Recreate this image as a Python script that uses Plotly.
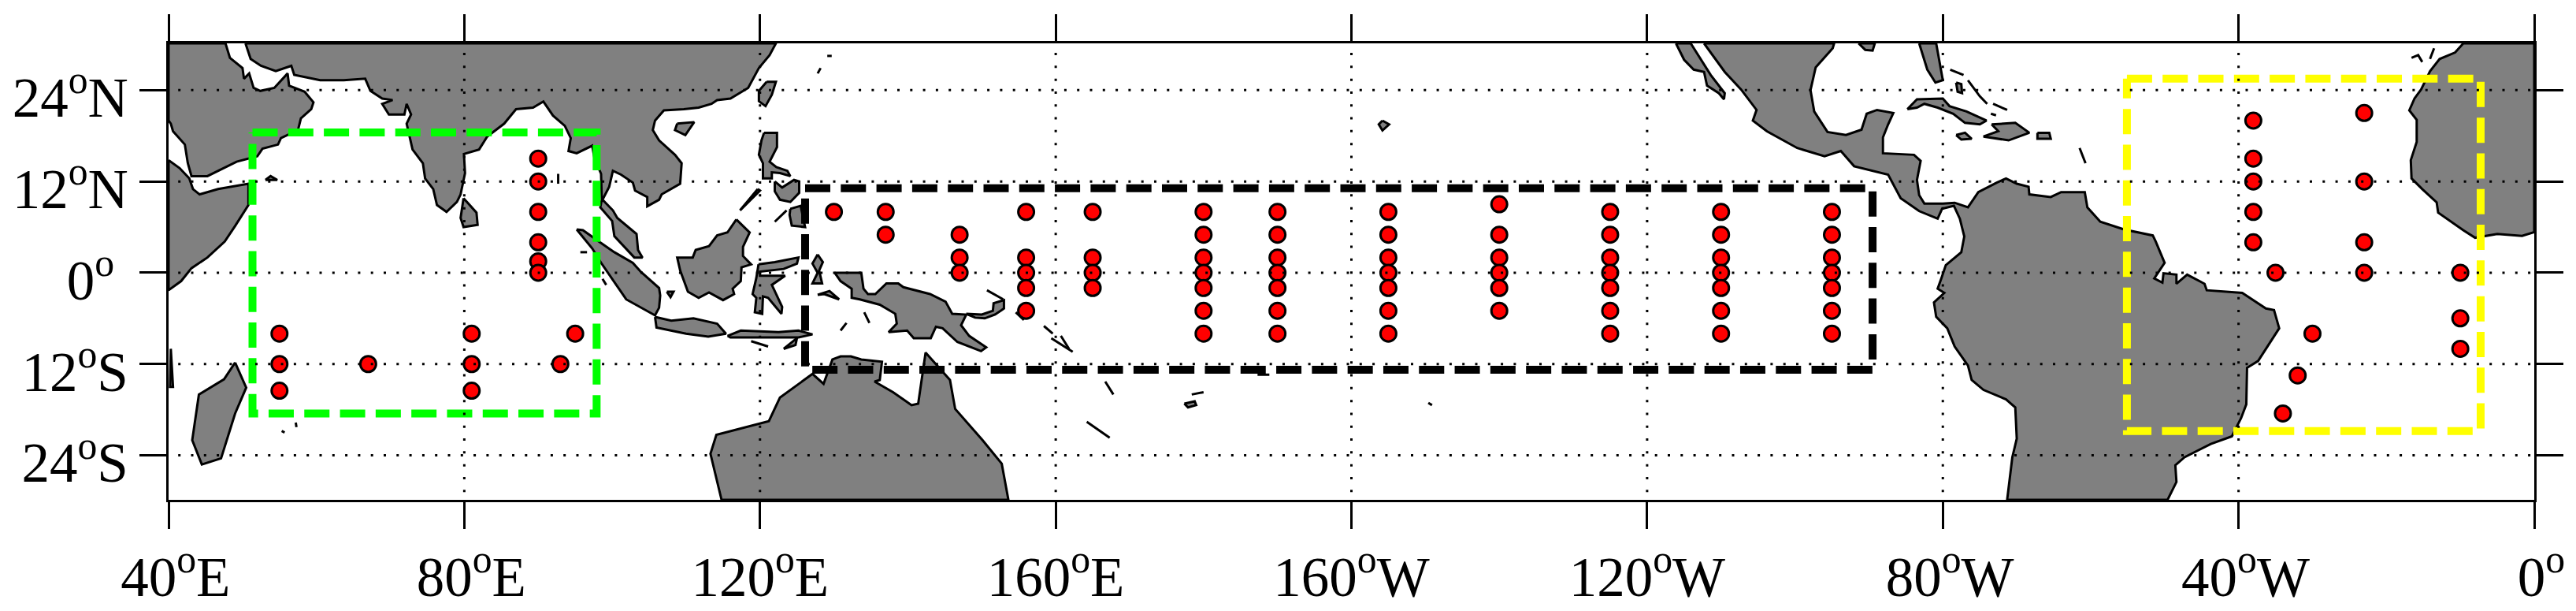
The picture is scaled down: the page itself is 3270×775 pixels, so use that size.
import plotly.graph_objects as go

# map frame
lon_range = [40, 360]
lat_range = [-29.85, 30.15]

# axis ticks, the leading blank nudges the two digit labels to the right as in the original
lon_ticks = [40, 80, 120, 160, 200, 240, 280, 320, 360]
lon_labels = ["\u00a040<sup>o</sup>E", "\u00a080<sup>o</sup>E", "120<sup>o</sup>E", "160<sup>o</sup>E", "160<sup>o</sup>W",
              "120<sup>o</sup>W", "\u00a080<sup>o</sup>W", "\u00a040<sup>o</sup>W", "\u00a00<sup>o</sup>"]
lat_ticks = [-24, -12, 0, 12, 24]
lat_labels = ["24<sup>o</sup>S", "12<sup>o</sup>S", "0<sup>o</sup>\u00a0", "12<sup>o</sup>N", "24<sup>o</sup>N"]

# where the dotted graticule starts and stops
grid_lon_span = [41.3, 360]
grid_lat_span = [28.9, -29.85]

# moorings
indian_lon = [55, 55, 55, 67, 81, 81, 81, 90, 90, 90, 90, 90, 90, 93, 95]
indian_lat = [-8, -12, -15.5, -12, -8, -12, -15.5, 15, 12, 8, 4, 1.5, 0, -12, -8]

pacific_lon = [130, 137, 137, 147, 147, 147, 156, 156, 156, 156, 156, 165, 165, 165, 165,
               180, 180, 180, 180, 180, 180, 180, 190, 190, 190, 190, 190, 190, 190,
               205, 205, 205, 205, 205, 205, 205, 220, 220, 220, 220, 220, 220,
               235, 235, 235, 235, 235, 235, 235, 250, 250, 250, 250, 250, 250, 250,
               265, 265, 265, 265, 265, 265, 265]
pacific_lat = [8, 8, 5, 5, 2, 0, 8, 2, 0, -2, -5, 8, 2, 0, -2,
               8, 5, 2, 0, -2, -5, -8, 8, 5, 2, 0, -2, -5, -8,
               8, 5, 2, 0, -2, -5, -8, 9, 5, 2, 0, -2, -5,
               8, 5, 2, 0, -2, -5, -8, 8, 5, 2, 0, -2, -5, -8,
               8, 5, 2, 0, -2, -5, -8]

atlantic_lon = [322, 322, 322, 322, 322, 337, 337, 337, 337, 325, 350, 350, 350, 330, 328, 326]
atlantic_lat = [20, 15, 12, 8, 4, 21, 12, 4, 0, 0, 0, -6, -10, -8, -13.5, -18.5]

# dashed regions: west, east, south, north
green_box = [51.35, 97.9, -18.5, 18.45]
black_box = [126.1, 270.5, -12.75, 11.1]
yellow_box = [304.9, 352.75, -20.8, 25.5]

# coastlines, (lon, lat)
asia = [(50.4, 30.15), (51.1, 28.1), (52.5, 27.2), (54.5, 26.5), (56.6, 27.2), (57, 26), (60.5, 25.3), (63.7, 25.3), (66.6, 25.5),
        (67.3, 23.9), (68.9, 22.9), (70.3, 22.7), (68.9, 22.2), (69.8, 20.8), (71.9, 20.8), (72.2, 22.2), (72.8, 20.8),
        (72.2, 19.6), (73, 16.2), (74.4, 14.4), (74.7, 12.4), (75.8, 11), (76.3, 8.9), (77.6, 8), (79, 9.3), (79.5, 10.3),
        (80.1, 13.1), (79.95, 15.6), (82, 16.2), (83.1, 17.9), (85.4, 19.6), (87, 21.5), (89.3, 21.7), (90.7, 22.5),
        (92, 20.65), (93.6, 19.3), (94.4, 17.7), (94.1, 16), (95.2, 15.7), (97.3, 16.7), (97.6, 15.1), (98.5, 13), (98.6, 9.6),
        (98.4, 8.6), (100, 6.8), (100.3, 4.8), (103, 2), (104.1, 2), (103.5, 3), (103.3, 5.1), (100.7, 7.2), (100.1, 8.2),
        (98.7, 9.6), (99.6, 11.3), (100.1, 13.4), (101.2, 12.9), (102.8, 11.85), (103.1, 10.8), (104.75, 9.95), (104.75, 8.74),
        (106.35, 9.6), (106.7, 10.3), (109.2, 11.7), (109.4, 14.4), (108.5, 15.5), (106.35, 17.4), (105.5, 18.75), (105.8, 20),
        (107, 21.35), (109.7, 21.5), (111.7, 21.7), (113.45, 22.2), (114.2, 22.7), (116, 22.9), (118.4, 24.3), (119.1, 25.5),
        (119.85, 26.9), (121.3, 28.6), (122.15, 30.15)]
arabia = [(40, 30.15), (47.7, 30.15), (48.3, 28.25), (50, 26.9), (50.2, 25.5), (50.9, 26.2), (51.5, 24.3), (52.4, 23.9), (54.3, 24.3),
          (56.1, 26.2), (56.3, 24.6), (58.4, 23.8), (59.6, 22.4), (59.3, 21.5), (57.9, 20.3), (57.5, 18.75), (55.2, 17.7),
          (54.8, 16.85), (52.7, 16.3), (52, 15.3), (49.2, 14.6), (47.2, 13.6), (45.25, 12.7), (43.1, 12.7), (42.6, 14.4),
          (42.2, 16.85), (40.6, 18.6), (40.3, 19.6), (40, 20)]
east_africa = [(40, 14.8), (41.5, 13.75), (42.8, 12.4), (43.3, 11), (44.2, 10.3), (46.7, 11), (50.8, 11.7), (50.8, 8.9), (49, 6.15),
               (47.6, 4.1), (45.25, 2), (43.1, 0.6), (41.7, -1.1), (40, -2.3)]
mozambique = [(40.3, -10), (40.6, -15), (40.2, -15)]
west_africa = [(350.4, 30.15), (349.3, 28.95), (347.2, 28.1), (345.9, 26.5), (344.7, 24.1), (343.8, 22.9), (343.1, 21.35),
               (344.1, 20.1), (344.1, 17.2), (343.3, 14.8), (343.4, 12.4), (344.85, 11), (346.8, 9.25), (347, 7.9), (350.4, 5.6),
               (352, 4.6), (355, 5.1), (358.35, 4.85), (360, 5.35), (360, 30.15)]
madagascar = [(49, -11.8), (50.5, -15.1), (49, -18.5), (47.1, -24.4), (44.5, -25.2), (43.2, -22), (44.1, -16), (47.5, -14)]
sri_lanka = [(79.9, 9.8), (81.65, 7.9), (81.8, 6.3), (79.9, 6), (79.5, 7.2)]
socotra = [(53.1, 12.2), (53.8, 12.7), (54.7, 12.2)]
sumatra = [(95.2, 5.7), (96.05, 5.6), (98.5, 3.9), (100.3, 2.7), (102.8, 1.3), (103.9, 0.1), (106.35, -2), (106.5, -3), (106.35, -4.6),
           (105.8, -5.6), (101.9, -3.5), (100.7, -1.8), (98.5, 1.3), (97.3, 3.2)]
belitung = [(107.4, -2.5), (108.3, -2.5), (107.9, -3.2)]
java = [(105.8, -5.8), (108, -6.3), (111, -6), (114.2, -6.7), (115.4, -8), (113, -8.4), (110, -8), (106, -7.2)]
sunda = [(115.6, -8.3), (117.4, -7.6), (122.5, -7.8), (125.2, -7.6), (127.1, -8.1), (125.2, -8.5), (120.2, -8.5), (116, -8.5)]
timor = [(123.2, -10), (125, -8.6), (124.8, -9.5)]
borneo = [(116.8, 7), (118.6, 5.3), (117.7, 3.4), (117.7, 2.2), (118.8, 1.1), (117.5, 0.7), (117.4, -1.1), (116.3, -2.1),
          (116.5, -2.8), (115, -3.6), (113.1, -2.6), (111.7, -3.3), (110.25, -2.5), (109.2, 0.3), (108.8, 2), (110.9, 2), (111.3, 3),
          (113.1, 3.5), (114.2, 4.9), (115.6, 5.3)]
sulawesi = [(119.8, 1.1), (122, 1.4), (125.2, 2), (125, 1.2), (123.2, 0.5), (120, 0.15), (120, -0.4), (123.4, -0.4),
            (121.6, -1.6), (123, -4.5), (122.9, -5.4), (121.1, -3.3), (120.4, -3.1), (120.3, -5.4), (119.3, -5.2),
            (119.5, -3.3), (119, -2.8), (119.5, -0.7)]
luzon = [(120.55, 18.4), (122.3, 18.4), (122.3, 16.5), (121.3, 14.6), (122.2, 13.9), (123.7, 13.4), (124.1, 12.7), (122.7, 13.1),
         (121.6, 13.2), (121.6, 12.4), (120.4, 12.4), (120.4, 14.4), (119.85, 15.5), (120.2, 17.4)]
palawan = [(119.7, 11), (120, 10.8), (117.3, 8.2)]
visayas = [(122, 12), (123, 11.2), (124.6, 12.2), (125.3, 12), (125.3, 10.5), (124.1, 9.3), (122.7, 9.6), (122, 10.7)]
mindanao = [(124.1, 8.4), (125.5, 8.8), (125.9, 6.9), (126.1, 6), (124.3, 6.2), (124, 7.6)]
halmahera = [(127.8, 2.4), (128.5, 1.4), (128, 0.3), (128.4, -1.4), (127.1, -1.4), (127.8, 0), (127.1, 1.2)]
seram = [(127.8, -2.9), (129.4, -2.4), (130.7, -3.5), (128.7, -2.8)]
new_guinea = [(130.1, 0), (133.7, 0), (134, -2.1), (134.6, -2.8), (135.6, -2.8), (137.1, -1.4), (138.7, -1.4), (139.4, -1.9),
              (143, -2.8), (145.1, -3.8), (146, -5.4), (147.9, -5.5), (147.2, -6.9), (148.3, -8.3), (150.6, -9.8),
              (149.9, -10.3), (146.7, -9.1), (144.7, -7.3), (143.8, -7.1), (143.1, -8.6), (140.8, -8.6), (139.9, -7.6),
              (137.4, -7.8), (138.5, -6.7), (138.3, -5.4), (136.2, -4.2), (133.5, -3.5), (132.4, -3.3), (132.4, -2.1),
              (130.9, -1.1)]
new_britain = [(147.9, -5.4), (150, -5.5), (151.5, -5), (151.6, -4), (153, -3.6), (153, -4.7), (151.8, -5.5), (150.4, -6),
               (149.1, -5.9)]
australia = [(114.8, -29.85), (113.3, -23.8), (114.1, -21.3), (121.2, -19.5), (122.7, -16.4), (127.1, -13.3), (128.6, -14.6),
             (129.8, -11.4), (130.9, -11), (132.3, -11), (133.7, -11.4), (136.5, -11.7), (136.2, -14.1), (135.5, -14.3),
             (138, -15.7), (140.5, -17.4), (141.4, -17.2), (142.4, -10.5), (145.7, -14.1), (146.4, -17.9), (150.1, -22),
             (152.7, -25.1), (153.6, -29.85)]
hainan = [(108.8, 19.6), (111.1, 19.8), (109.9, 18.1), (108.5, 18.75)]
taiwan = [(120.9, 25.1), (122.15, 25.1), (121.6, 23.4), (120.75, 21.9), (119.85, 22.55), (119.85, 23.9)]
hawaii = [(204.2, 20), (205.1, 19.5), (204.2, 18.7), (203.7, 19.5)]
baja = [(243.9, 30.15), (245.9, 30.15), (248.6, 26), (250.5, 23.6), (250.4, 22.8), (249.7, 23.6), (248.1, 24.6), (247.7, 26.4),
        (246.3, 26.7), (245, 28)]
americas = [(247.7, 30.15), (250.5, 26.4), (252.7, 24.1), (254.8, 21.4), (254.3, 20), (256.2, 18.6), (260.3, 16.4), (264, 15.3),
            (266.2, 16), (268, 14), (272.6, 12.9), (274.3, 9.8), (276.8, 8.1), (279.3, 7.1), (279.9, 8.4), (281.5, 8.8),
            (282.3, 7.1), (282.9, 4.77), (282.5, 2.7), (280.4, 1), (279.85, -0.6), (279.3, -2.1), (280.2, -2.65), (278.8, -3.9),
            (279.1, -5.8), (280.6, -7.3), (281.6, -9.7), (283.4, -12.2), (283.9, -14.1), (285.5, -15.4), (288.55, -16.65),
            (289.8, -17.7), (290, -21.8), (289.4, -24.25), (288.7, -29.85), (310.4, -29.85), (311.6, -27.5), (311.45, -25.3),
            (312.7, -24.25), (316.25, -22.5), (319.1, -21.5), (320.35, -19.1), (321.05, -17.3), (321.15, -12.5), (322.65, -11.6),
            (325.5, -7.3), (324.8, -4.9), (323.7, -4.7), (320.5, -2.65), (315.7, -2.3), (315.4, -1.45), (313.05, -0.25),
            (311.6, -1.45), (311.6, -0.25), (309.85, -0.07), (309.7, -1.3), (308.6, -0.75), (310, 1.3), (308.8, 4.1), (308.4, 4.9),
            (304.5, 5.7), (301.3, 6.7), (299.55, 8.6), (299.2, 10.6), (296, 10.6), (294.6, 9.95), (291.7, 10.3), (291.6, 11.3),
            (290, 11.7), (288.55, 12.4), (287.3, 11.85), (284.8, 10.6), (283.4, 8.6), (281.6, 9.2), (280, 9.1), (277.5, 9.1),
            (276.8, 10.2), (276.5, 12.2), (277, 14.7), (276.1, 15.5), (271.9, 15.7), (271.9, 17.8), (272.6, 19.5), (273.3, 21),
            (271.1, 21.4), (269.7, 20.9), (269, 18.8), (266.9, 18.1), (264.4, 18.5), (262.6, 21.2), (262.1, 24), (262.8, 27),
            (265.1, 29.5), (265.3, 30.15)]
florida = [(276.8, 30.15), (279.1, 30.15), (280, 25.3), (279, 25), (277.9, 26.7)]
louisiana = [(268.6, 30.15), (270.8, 30.15), (270.5, 29.2), (269.5, 29.3)]
cuba = [(275.2, 21.5), (276.5, 22.8), (280, 22.9), (280.9, 21.9), (283.2, 21.2), (285.9, 20), (285, 19.5), (283, 19.7),
        (281.4, 20.9), (279.3, 21.7), (277.5, 22.2), (276.5, 21.7)]
hispaniola = [(286.6, 19.5), (289.8, 19.7), (291.7, 18.4), (288.9, 17.4), (285.5, 17.9), (287.5, 18.6)]
jamaica = [(281.8, 18.1), (283, 18.4), (283.9, 17.6), (282.5, 17.5)]
puerto_rico = [(292.8, 18.4), (294.4, 18.4), (294.6, 17.6), (292.8, 17.6)]
andros = [(281.8, 25), (282.5, 24.8), (282.6, 23.6), (282, 23.8)]
fiji = [(177.4, -17.2), (178.8, -16.9), (179, -17.4), (177.9, -17.7)]
landmasses = [asia, arabia, east_africa, mozambique, west_africa, madagascar, sri_lanka, socotra, sumatra, belitung, java, sunda,
              timor, borneo, sulawesi, luzon, palawan, visayas, mindanao, halmahera, seram, new_guinea, new_britain, australia,
              hainan, taiwan, hawaii, baja, americas, florida, louisiana, cuba, hispaniola, jamaica, puerto_rico, andros, fiji]

# thin islands and island chains, drawn as just a coast line
zamboanga = [(122, 6.7), (123.6, 8.2)]
new_ireland = [(150.7, -2.3), (152.9, -3.5)]
bougainville = [(154.6, -5.2), (155.7, -6.2)]
solomon_a = [(158.4, -7), (159.6, -8)]
solomon_b = [(159.4, -8.6), (162.3, -10.4)]
solomon_c = [(160.7, -8.3), (161.8, -10)]
sumba = [(118.8, -9), (121.1, -9.7)]
tanimbar = [(134.1, -5.2), (134.8, -6.6)]
wetar = [(130.9, -7.6), (131.7, -6.6)]
andaman = [(92.7, 13), (92.7, 11.7)]
simeulue = [(95.7, 2.7), (96.6, 2.7)]
nias = [(98.7, -0.8), (99.2, -1.6)]
mascarene_a = [(55.3, -20.8), (55.7, -21)]
mascarene_b = [(57.2, -19.7), (57.3, -20.3)]
ryukyu = [(127.8, 26.2), (128.2, 26.9)]
amami = [(129.1, 28.5), (129.7, 28.5)]
new_caledonia = [(164.2, -19.6), (167.3, -21.7)]
vanuatu = [(166.7, -14.3), (167.8, -16)]
fiji_north = [(178.4, -16), (180, -15.7)]
samoa = [(187.3, -13.4), (188.9, -13.4)]
tahiti = [(210.4, -17.1), (210.9, -17.4)]
bahamas_a = [(281, 26.7), (282.8, 26)]
bahamas_b = [(283.4, 25.3), (285, 23.2), (286, 22.2)]
bahamas_c = [(286.8, 22.2), (288.7, 21.4)]
caicos = [(286.5, 20.9), (287.2, 20.7)]
antilles = [(298.5, 16.4), (299.3, 14.4)]
canaries_a = [(343.4, 28.25), (344.3, 28.6), (344.85, 27.7)]
canaries_b = [(345.9, 28.1), (346.45, 29.5)]
chains = [zamboanga, new_ireland, bougainville, solomon_a, solomon_b, solomon_c, sumba, tanimbar, wetar, andaman, simeulue,
          nias, mascarene_a, mascarene_b, ryukyu, amami, new_caledonia, vanuatu, fiji_north, samoa, tahiti,
          bahamas_a, bahamas_b, bahamas_c, caicos, antilles, canaries_a, canaries_b]


def box_line(box, colour):
    west, east, south, north = box
    return go.Scatter(x=[west, east, east, west, west], y=[north, north, south, south, north], mode="lines",
                      line=dict(color=colour, width=10, dash="32px,13.3px"), hoverinfo="skip")


fig = go.Figure()

for land in landmasses:
    fig.add_trace(go.Scatter(x=[p[0] for p in land] + [land[0][0]], y=[p[1] for p in land] + [land[0][1]], mode="lines",
                             fill="toself", fillcolor="#808080", line=dict(color="black", width=3), hoverinfo="skip"))
for chain in chains:
    fig.add_trace(go.Scatter(x=[p[0] for p in chain], y=[p[1] for p in chain], mode="lines",
                             line=dict(color="black", width=3), hoverinfo="skip"))

fig.add_trace(box_line(green_box, "#00ff00"))
fig.add_trace(box_line(black_box, "black"))
fig.add_trace(box_line(yellow_box, "#ffff00"))

for xs, ys in [(indian_lon, indian_lat), (pacific_lon, pacific_lat), (atlantic_lon, atlantic_lat)]:
    fig.add_trace(go.Scatter(x=xs, y=ys, mode="markers", hoverinfo="skip",
                             marker=dict(color="#ff0000", size=20, line=dict(color="black", width=3))))

# the dotted graticule sits on top of the land and the markers
for lat in lat_ticks:
    fig.add_trace(go.Scatter(x=grid_lon_span, y=[lat, lat], mode="lines", hoverinfo="skip",
                             line=dict(color="black", width=3, dash="3px,13.3px")))
for lon in lon_ticks[1:-1]:
    fig.add_trace(go.Scatter(x=[lon, lon], y=grid_lat_span, mode="lines", hoverinfo="skip",
                             line=dict(color="black", width=3, dash="3px,13.3px")))

axis_font = dict(family="Liberation Serif", size=71, color="black")
fig.update_xaxes(range=lon_range, tickmode="array", tickvals=lon_ticks, ticktext=lon_labels, ticks="outside", ticklen=34,
                 tickwidth=3, tickcolor="black", showline=True, linewidth=3, linecolor="black", mirror="ticks",
                 showgrid=False, zeroline=False, tickfont=axis_font, tickangle=0)
fig.update_yaxes(range=lat_range, tickmode="array", tickvals=lat_ticks, ticktext=lat_labels, ticks="outside", ticklen=34,
                 tickwidth=3, tickcolor="black", showline=True, linewidth=3, linecolor="black", mirror="ticks",
                 showgrid=False, zeroline=False, tickfont=axis_font, ticklabelshift=9)
fig.update_layout(width=3270, height=775, margin=dict(l=214, r=53, t=55, b=141, autoexpand=False), showlegend=False,
                  paper_bgcolor="white", plot_bgcolor="white")

fig.write_html("out.html", config={"displayModeBar": False}, post_script="document.body.style.margin = '0';")
